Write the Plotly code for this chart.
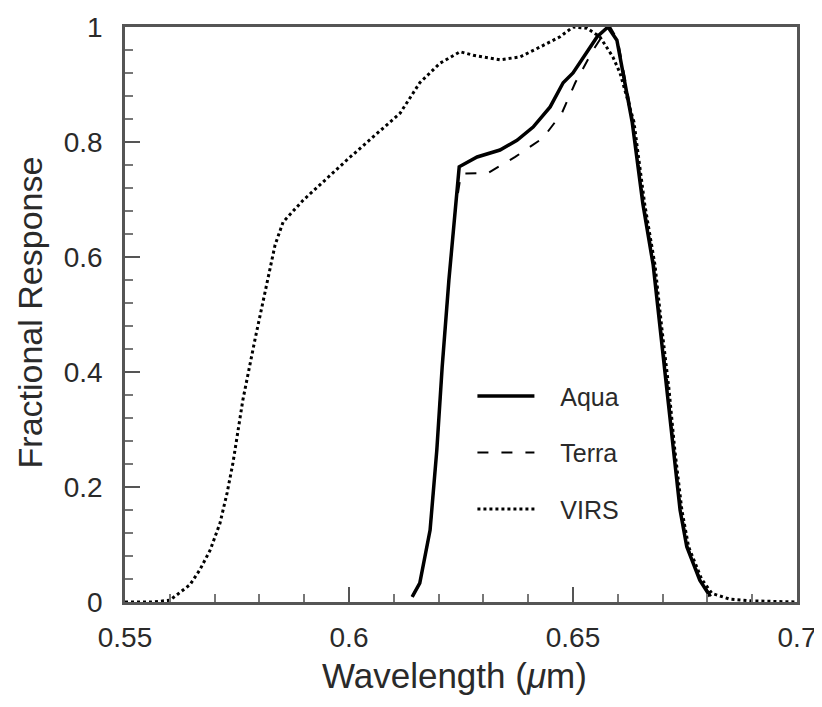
import plotly.graph_objects as go

# ---- data ----
aqua_x = [0.6141, 0.6158, 0.6181, 0.6196, 0.6208, 0.6223, 0.6237, 0.6246, 0.6286, 0.6337,
          0.6375, 0.6411, 0.6449, 0.6478, 0.6500, 0.6531, 0.6554, 0.6578, 0.6598, 0.6632,
          0.6656, 0.6679, 0.6694, 0.6710, 0.6723, 0.6739, 0.6754, 0.6783, 0.6806]
aqua_y = [0.009, 0.033, 0.125, 0.264, 0.409, 0.560, 0.680, 0.757, 0.774, 0.786,
          0.803, 0.826, 0.861, 0.903, 0.920, 0.955, 0.983, 1.000, 0.977, 0.835,
          0.692, 0.586, 0.478, 0.372, 0.266, 0.160, 0.096, 0.038, 0.010]

terra_x = [0.6141, 0.6158, 0.6181, 0.6196, 0.6208, 0.6223, 0.6237, 0.6250, 0.6310, 0.6371,
           0.6433, 0.6475, 0.6505, 0.6545, 0.6570, 0.6583, 0.6600, 0.6634, 0.6658, 0.6681,
           0.6696, 0.6712, 0.6725, 0.6741, 0.6756, 0.6785, 0.6808]
terra_y = [0.009, 0.033, 0.125, 0.264, 0.409, 0.560, 0.680, 0.745, 0.746, 0.774,
           0.807, 0.850, 0.903, 0.960, 0.990, 1.000, 0.977, 0.835, 0.692, 0.586,
           0.478, 0.372, 0.266, 0.160, 0.096, 0.038, 0.010]

virs_x = [0.5500, 0.5560, 0.5600, 0.5623, 0.5645, 0.5667, 0.5690, 0.5712, 0.5728, 0.5741,
          0.5752, 0.5763, 0.5790, 0.5813, 0.5835, 0.5853, 0.5898, 0.6000, 0.6114, 0.6158,
          0.6203, 0.6248, 0.6277, 0.6337, 0.6382, 0.6426, 0.6471, 0.6500, 0.6531, 0.6560,
          0.6589, 0.6605, 0.6636, 0.6660, 0.6683, 0.6698, 0.6714, 0.6727, 0.6743, 0.6758,
          0.6787, 0.6810, 0.6850, 0.6900, 0.7000]
virs_y = [0.000, 0.000, 0.003, 0.016, 0.030, 0.056, 0.090, 0.137, 0.190, 0.242,
          0.294, 0.351, 0.456, 0.543, 0.621, 0.661, 0.699, 0.772, 0.850, 0.903,
          0.937, 0.957, 0.951, 0.943, 0.948, 0.965, 0.983, 1.000, 0.998, 0.983,
          0.948, 0.920, 0.835, 0.692, 0.586, 0.478, 0.372, 0.266, 0.160, 0.096,
          0.040, 0.015, 0.005, 0.002, 0.000]

series_names = ["Aqua", "Terra", "VIRS"]

x_ticks = [0.55, 0.6, 0.65, 0.7]
x_tick_labels = ["0.55", "0.6", "0.65", "0.7"]
y_ticks = [0, 0.2, 0.4, 0.6, 0.8, 1.0]
y_tick_labels = ["0", "0.2", "0.4", "0.6", "0.8", "1"]

FONT = "Liberation Sans, Arial, sans-serif"
INK = "#2a2a2a"
PAD = "\u00a0\u00a0\u00a0"  # extra gap between legend sample and label

fig = go.Figure()
fig.add_trace(go.Scatter(x=aqua_x, y=aqua_y, mode="lines", name=PAD + series_names[0],
                         legendgroup="a", line=dict(color="black", width=3.5)))
fig.add_trace(go.Scatter(x=terra_x, y=terra_y, mode="lines", name=PAD + series_names[1],
                         legendgroup="t", line=dict(color="black", width=2, dash="11px,13px")))
fig.add_trace(go.Scatter(x=virs_x, y=virs_y, mode="lines", name=PAD + series_names[2],
                         legendgroup="v", line=dict(color="black", width=3, dash="3px,3px")))

axis_common = dict(
    showline=True, linecolor="#555", linewidth=2.5, mirror=True,
    showgrid=False, zeroline=False, automargin=False,
    ticks="inside", ticklen=15, tickwidth=2, tickcolor="#555",
    tickfont=dict(family=FONT, size=28, color=INK),
)

fig.update_xaxes(range=[0.55, 0.7], tickvals=x_ticks, ticktext=x_tick_labels,
                 minor=dict(dtick=0.01, ticks="inside", ticklen=8, tickcolor="#777", tickwidth=1.5),
                 ticklabelstandoff=9,
                 **axis_common)
fig.update_yaxes(range=[0, 1], tickvals=y_ticks, ticktext=y_tick_labels,
                 minor=dict(dtick=0.04, ticks="inside", ticklen=8, tickcolor="#777", tickwidth=1.5),
                 ticklabelstandoff=14,
                 **axis_common)

fig.add_annotation(text="Wavelength (<i>μ</i>m)", xref="paper", yref="paper",
                   x=0.49, y=-0.166, xanchor="center", yanchor="bottom", showarrow=False,
                   font=dict(family=FONT, size=35, color=INK))
fig.add_annotation(text="Fractional Response", xref="paper", yref="paper",
                   x=-0.141, y=0.504, xanchor="center", yanchor="middle", showarrow=False,
                   textangle=-90, font=dict(family=FONT, size=34, color=INK))

fig.update_layout(
    width=814, height=691,
    margin=dict(l=117, r=25, t=19, b=97, autoexpand=False),
    paper_bgcolor="white", plot_bgcolor="white",
    showlegend=True,
    legend=dict(x=0.517, y=0.398, xanchor="left", yanchor="top",
                bgcolor="rgba(0,0,0,0)", borderwidth=0,
                font=dict(family=FONT, size=25, color=INK),
                itemwidth=57, tracegroupgap=21),
)

fig.write_html("out.html")
